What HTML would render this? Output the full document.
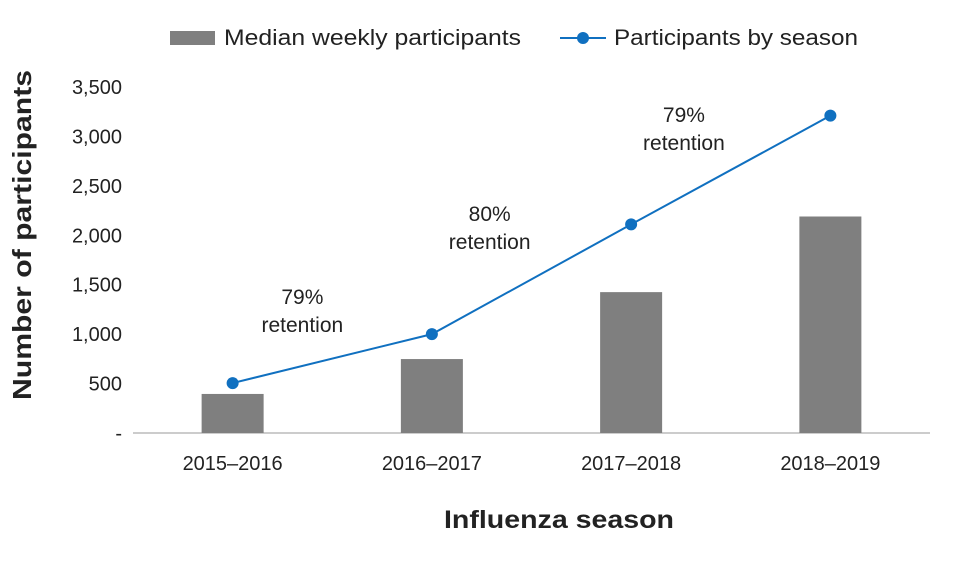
<!DOCTYPE html>
<html><head><meta charset="utf-8"><style>
body{margin:0;background:#fff;font-family:"Liberation Sans",sans-serif;}
svg text{font-family:"Liberation Sans",sans-serif;fill:#222;}
</style></head><body>
<svg width="980" height="560" viewBox="0 0 980 560" id="chart">
<g>
<rect x="170" y="31" width="45" height="14" fill="#7f7f7f"/>
<text x="224" y="45" font-size="22" textLength="297" lengthAdjust="spacingAndGlyphs">Median weekly participants</text>
<line x1="560" y1="38" x2="606" y2="38" stroke="#1070c0" stroke-width="2"/>
<circle cx="583" cy="38" r="6" fill="#1070c0"/>
<text x="614" y="45" font-size="22" textLength="244" lengthAdjust="spacingAndGlyphs">Participants by season</text>
</g>
<text transform="translate(31,235) rotate(-90)" text-anchor="middle" font-size="26" font-weight="bold" textLength="330" lengthAdjust="spacingAndGlyphs">Number of participants</text>
<text x="559" y="528" text-anchor="middle" font-size="25" font-weight="bold" textLength="230" lengthAdjust="spacingAndGlyphs">Influenza season</text>
<g id="plot"></g>
</svg>
<script>
const categories = ["2015–2016","2016–2017","2017–2018","2018–2019"];
const medianWeekly = [395, 748, 1425, 2190];
const bySeason = [505, 1000, 2110, 3210];
const yTicks = [0,500,1000,1500,2000,2500,3000,3500];
const yTickLabels = ["-","500","1,000","1,500","2,000","2,500","3,000","3,500"];
const annotations = ["79%","80%","79%"];
const annotationX = [0.35, 1.29, 2.265];
const annotationY = [1375, 2215, 3215];
const X0=133, X1=930, Y0=433, Y1=87, YMAX=3500;
const band=(X1-X0)/categories.length;
const xc=i=>X0+band*(i+0.5);
const y=v=>Y0-(v/YMAX)*(Y0-Y1);
const NS="http://www.w3.org/2000/svg";
const g=document.getElementById('plot');
function mk(t,a){const e=document.createElementNS(NS,t);for(const k in a)e.setAttribute(k,a[k]);g.appendChild(e);return e;}
yTicks.forEach((v,i)=>{
  const t=mk('text',{x:122,y:y(v)+7,'text-anchor':'end','font-size':20});
  t.textContent=yTickLabels[i];
  
  
});
const ax=mk('line',{x1:X0,y1:Y0,x2:X1,y2:Y0,stroke:'#bbb','stroke-width':1.5});


categories.forEach((c,i)=>{
  const b=mk('rect',{x:xc(i)-31,y:y(medianWeekly[i]),width:62,height:Y0-y(medianWeekly[i]),fill:'#7f7f7f'});
  
  
  const t=mk('text',{x:xc(i),y:470,'text-anchor':'middle','font-size':20});
  t.textContent=c;
  
  
});
const pl=mk('polyline',{points:bySeason.map((v,i)=>xc(i)+','+y(v)).join(' '),fill:'none',stroke:'#1070c0','stroke-width':2});


bySeason.forEach((v,i)=>{
  const c=mk('circle',{cx:xc(i),cy:y(v),r:6,fill:'#1070c0'});
  
  
});
annotations.forEach((a,i)=>{
  const mx=X0+band*(annotationX[i]+0.5), my=y(annotationY[i]);
  const t1=mk('text',{x:mx,y:my+7,'text-anchor':'middle','font-size':21});
  t1.textContent=a;
  
  
  const t2=mk('text',{x:mx,y:my+35,'text-anchor':'middle','font-size':21});
  t2.textContent='retention';
  
  
});
</script>
</body></html>
